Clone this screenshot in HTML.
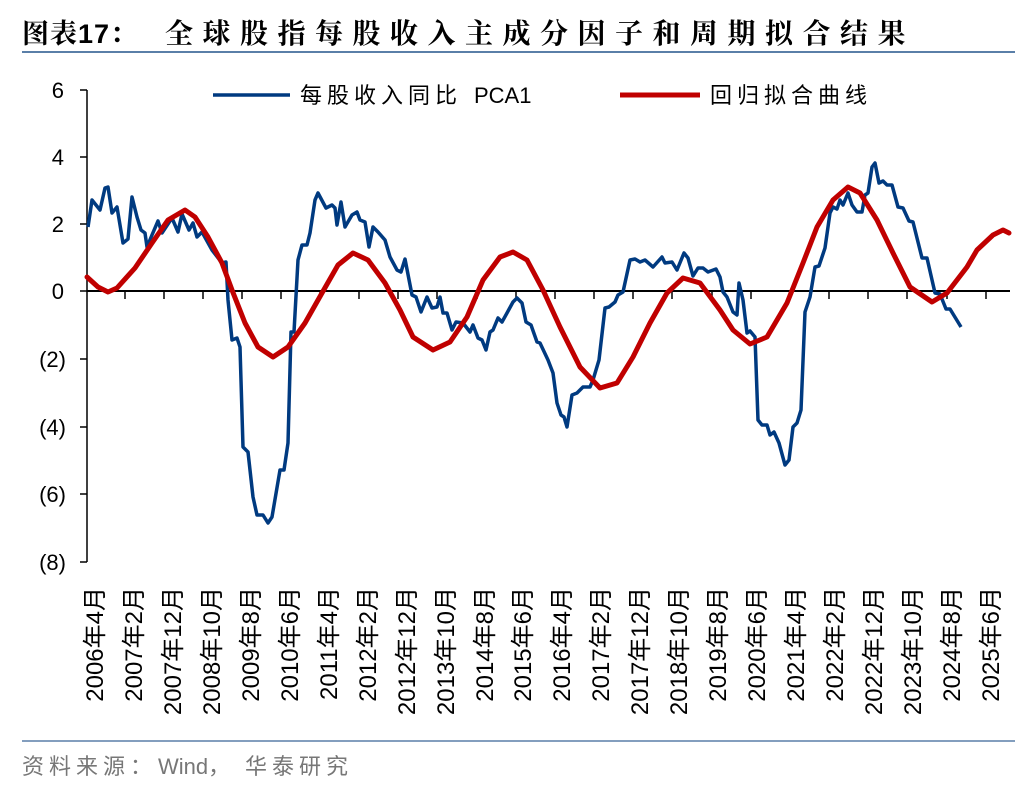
<!DOCTYPE html>
<html><head><meta charset="utf-8"><style>
body{margin:0;background:#fff;width:1036px;height:792px;overflow:hidden}
</style></head><body>
<svg width="1036" height="792" xmlns="http://www.w3.org/2000/svg" font-family="Liberation Sans, Noto Sans CJK SC, sans-serif">
<text x="22" y="43" font-size="27" font-weight="bold" fill="#000" font-family="Liberation Sans, Noto Serif CJK SC, serif" letter-spacing="1">图表17：</text>
<text x="165" y="43" font-size="28" font-weight="bold" fill="#000" font-family="Liberation Sans, Noto Serif CJK SC, serif" letter-spacing="9.5">全球股指每股收入主成分因子和周期拟合结果</text>
<line x1="22" y1="52" x2="1015" y2="52" stroke="#5a7fa8" stroke-width="2"/>
<g font-size="22" fill="#000" text-anchor="end">
<text x="64" y="98">6</text><text x="64" y="165">4</text><text x="64" y="232">2</text><text x="64" y="299">0</text>
<text x="66" y="367">(2)</text><text x="66" y="435">(4)</text><text x="66" y="502">(6)</text><text x="66" y="570">(8)</text>
</g>
<g stroke="#000" stroke-width="1.5">
<line x1="87" y1="90" x2="87" y2="562"/>
<line x1="80" y1="90" x2="87" y2="90"/><line x1="80" y1="157" x2="87" y2="157"/><line x1="80" y1="224" x2="87" y2="224"/><line x1="80" y1="291" x2="87" y2="291"/><line x1="80" y1="359" x2="87" y2="359"/><line x1="80" y1="427" x2="87" y2="427"/><line x1="80" y1="494" x2="87" y2="494"/><line x1="80" y1="562" x2="87" y2="562"/>
<line x1="87" y1="291" x2="1010" y2="291" stroke-width="2"/>
<path d="M125 291v8M164 291v8M203 291v8M242 291v8M281 291v8M320 291v8M359 291v8M398 291v8M437 291v8M477 291v8M516 291v8M555 291v8M594 291v8M633 291v8M672 291v8M712 291v8M751 291v8M790 291v8M829 291v8M868 291v8M907 291v8M947 291v8M986 291v8"/>
</g>
<g font-size="24" fill="#000" text-anchor="end">
<text transform="translate(103,587) rotate(-90)">2006年4月</text>
<text transform="translate(142,587) rotate(-90)">2007年2月</text>
<text transform="translate(181,587) rotate(-90)">2007年12月</text>
<text transform="translate(220,587) rotate(-90)">2008年10月</text>
<text transform="translate(259,587) rotate(-90)">2009年8月</text>
<text transform="translate(298,587) rotate(-90)">2010年6月</text>
<text transform="translate(337,587) rotate(-90)">2011年4月</text>
<text transform="translate(376,587) rotate(-90)">2012年2月</text>
<text transform="translate(415,587) rotate(-90)">2012年12月</text>
<text transform="translate(454,587) rotate(-90)">2013年10月</text>
<text transform="translate(493,587) rotate(-90)">2014年8月</text>
<text transform="translate(531,587) rotate(-90)">2015年6月</text>
<text transform="translate(570,587) rotate(-90)">2016年4月</text>
<text transform="translate(609,587) rotate(-90)">2017年2月</text>
<text transform="translate(648,587) rotate(-90)">2017年12月</text>
<text transform="translate(687,587) rotate(-90)">2018年10月</text>
<text transform="translate(726,587) rotate(-90)">2019年8月</text>
<text transform="translate(765,587) rotate(-90)">2020年6月</text>
<text transform="translate(804,587) rotate(-90)">2021年4月</text>
<text transform="translate(843,587) rotate(-90)">2022年2月</text>
<text transform="translate(882,587) rotate(-90)">2022年12月</text>
<text transform="translate(921,587) rotate(-90)">2023年10月</text>
<text transform="translate(960,587) rotate(-90)">2024年8月</text>
<text transform="translate(999,587) rotate(-90)">2025年6月</text>
</g>
<polyline fill="none" stroke="#003a80" stroke-width="3.5" stroke-linejoin="round" points="88,227 92,200 100,210 105,188 108,187 112,213 117,207 123,243 128,239 132,197 137,217 141,230 145,233 147,247 152,235 158,221 162,233 172,218 178,232 182,214 189,230 193,223 197,237 202,232 212,250 222,263 226,262 228,300 232,340 237,338 240,347 243,447 248,452 253,497 257,515 263,515 268,523 272,517 280,470 284,470 288,443 291,332 294,332 298,260 302,245 307,245 310,233 315,200 318,193 326,208 332,205 335,208 337,225 341,202 345,227 352,215 357,212 360,220 365,222 369,247 373,227 378,232 385,240 390,257 397,270 401,272 405,259 412,295 416,297 421,312 427,297 432,308 437,307 440,297 443,313 447,313 452,330 456,322 463,323 470,332 473,325 478,338 482,340 486,350 490,332 493,330 498,318 502,322 507,313 513,302 517,298 522,303 526,322 531,325 537,342 540,343 548,360 553,373 557,403 561,415 564,417 567,427 572,395 577,393 583,387 590,387 593,380 599,360 605,308 609,307 615,302 618,295 623,292 630,260 635,259 640,262 645,260 653,267 662,257 665,263 672,262 677,270 684,253 688,258 693,276 698,268 703,268 708,272 716,269 720,277 723,292 727,297 733,312 737,315 739,283 743,300 747,333 750,331 755,337 758,420 762,425 767,425 770,435 774,432 779,443 785,465 789,460 793,427 797,423 801,410 805,312 810,297 815,267 819,266 825,248 830,213 833,207 837,209 840,200 843,205 848,193 852,205 857,212 862,212 865,195 868,193 872,167 875,163 879,183 883,181 887,185 892,185 898,207 903,208 909,221 913,222 922,258 927,258 935,293 940,294 946,309 950,309 961,327"/>
<polyline fill="none" stroke="#c00000" stroke-width="5" stroke-linejoin="round" stroke-linecap="round" points="87,277 98,287 108,292 117,288 135,268 152,243 168,220 185,210 195,217 208,237 222,263 232,290 245,323 258,347 273,357 288,347 305,323 322,293 338,265 353,253 368,260 385,283 400,310 413,337 433,350 450,342 467,317 483,280 500,257 513,252 527,260 543,290 560,327 580,367 600,388 617,383 633,357 650,323 667,293 683,278 700,283 720,310 733,330 750,344 767,337 787,303 803,263 817,227 833,200 848,187 860,193 877,220 893,253 910,287 932,302 947,293 967,267 977,250 993,235 1003,230 1009,233"/>
<line x1="213" y1="95" x2="290" y2="95" stroke="#003a80" stroke-width="3.5"/>
<text x="300" y="103" font-size="22" fill="#000"><tspan letter-spacing="5">每股收入同比</tspan><tspan x="474">PCA1</tspan></text>
<line x1="620" y1="95" x2="700" y2="95" stroke="#c00000" stroke-width="5"/>
<text x="710" y="103" font-size="22" fill="#000" letter-spacing="5">回归拟合曲线</text>
<line x1="22" y1="741" x2="1015" y2="741" stroke="#5a7fa8" stroke-width="1.5"/>
<text x="22" y="774" font-size="22" fill="#777"><tspan letter-spacing="5">资料来源：</tspan><tspan x="158">Wind，</tspan><tspan x="245" letter-spacing="5">华泰研究</tspan></text>
</svg>
</body></html>
